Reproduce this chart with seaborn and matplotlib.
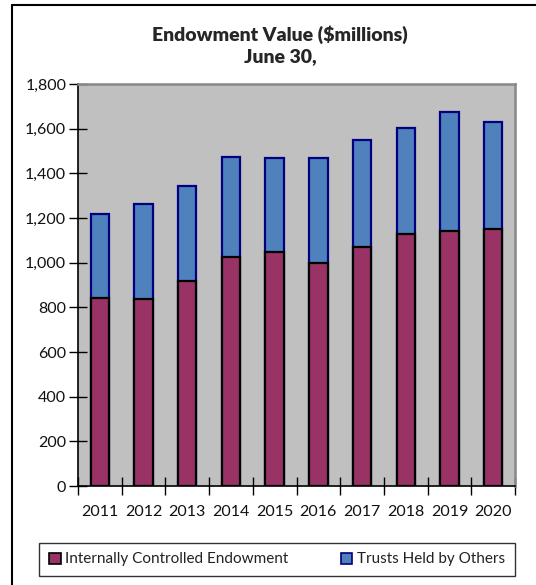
import numpy as np
import pandas as pd
import matplotlib
matplotlib.use("Agg")
import matplotlib.pyplot as plt
from matplotlib.patches import Patch
from matplotlib.lines import Line2D
from matplotlib.ticker import FuncFormatter, FixedLocator
import seaborn as sns

years = ["2011", "2012", "2013", "2014", "2015", "2016", "2017", "2018", "2019", "2020"]
internal = [843, 839, 916, 1024, 1048, 999, 1070, 1130, 1143, 1152]
trusts = [376, 424, 427, 451, 422, 471, 478, 473, 532, 478]
y_ticks = [0, 200, 400, 600, 800, 1000, 1200, 1400, 1600, 1800]

df = pd.DataFrame({"year": years, "internal": internal, "trusts": trusts})
df["total"] = df["internal"] + df["trusts"]

sns.set_theme(style="white")
plt.rcParams["font.family"] = ["Lato", "DejaVu Sans"]

PLUM = "#993366"
STEEL = "#4F81BD"
NAVY = "#000080"

fig = plt.figure(figsize=(5.36, 5.85), dpi=100)
ax = fig.add_axes([78 / 536, 1 - 486 / 585, 437 / 536, 402 / 585])
ax.set_facecolor("#C0C0C0")

# Stacked columns: full height in blue, internal part drawn over it
sns.barplot(data=df, x="year", y="total", color=STEEL, saturation=1,
            width=0.42, edgecolor=NAVY, linewidth=1.6, ax=ax)
sns.barplot(data=df, x="year", y="internal", color=PLUM, saturation=1,
            width=0.42, edgecolor="black", linewidth=1.6, ax=ax)

ax.set_xlim(-0.5, len(years) - 0.5)
ax.set_ylim(0, 1800)
ax.set_xlabel("")
ax.set_ylabel("")

ax.yaxis.set_major_locator(FixedLocator(y_ticks))
ax.yaxis.set_major_formatter(FuncFormatter(lambda v, p: f"{int(v):,}"))
ax.tick_params(axis="y", which="major", direction="inout", length=13,
               width=1, color="black", labelsize=11.5, pad=2, left=True,
               labelcolor="#111111")

ax.set_xticks(range(len(years)))
ax.set_xticklabels(years)
ax.set_xticks(np.arange(-0.5, len(years), 1.0), minor=True)
ax.tick_params(axis="x", which="major", length=0, labelsize=11.5, pad=14,
               labelcolor="#111111")
ax.tick_params(axis="x", which="minor", direction="inout", length=13,
               width=1, color="black", bottom=True)

for side in ("left", "bottom"):
    ax.spines[side].set_color("black")
    ax.spines[side].set_linewidth(1.2)
for side in ("top", "right"):
    ax.spines[side].set_color("#888888")
    ax.spines[side].set_linewidth(1.8)

fig.text(280 / 536, 1 - 35 / 585, "Endowment Value ($millions)",
         ha="center", va="center", fontsize=14, fontweight="heavy")
fig.text(280 / 536, 1 - 57 / 585, "June 30,",
         ha="center", va="center", fontsize=14, fontweight="heavy")

handles = [
    Patch(facecolor=PLUM, edgecolor="black", linewidth=1.2, label="Internally Controlled Endowment"),
    Patch(facecolor=STEEL, edgecolor=NAVY, linewidth=1.2, label="Trusts Held by Others"),
]
leg = fig.legend(handles=handles, loc="center", ncol=2,
                 bbox_to_anchor=(277 / 536, 1 - 559.5 / 585),
                 frameon=True, fancybox=False, fontsize=11,
                 handlelength=0.75, handleheight=0.75, handletextpad=0.3,
                 columnspacing=3.4, borderpad=0.65, borderaxespad=0)
leg.get_frame().set_edgecolor("black")
leg.get_frame().set_linewidth(1.0)
for t in leg.get_texts():
    t.set_color("#222222")

# Outer chart frame on the top and left
fig.add_artist(Line2D([12 / 536, 1], [1 - 5 / 585, 1 - 5 / 585],
                      transform=fig.transFigure, color="black", linewidth=1.5))
fig.add_artist(Line2D([12 / 536, 12 / 536], [0, 1 - 5 / 585],
                      transform=fig.transFigure, color="black", linewidth=1.5))

fig.savefig("out.png", dpi=100, facecolor="white")
